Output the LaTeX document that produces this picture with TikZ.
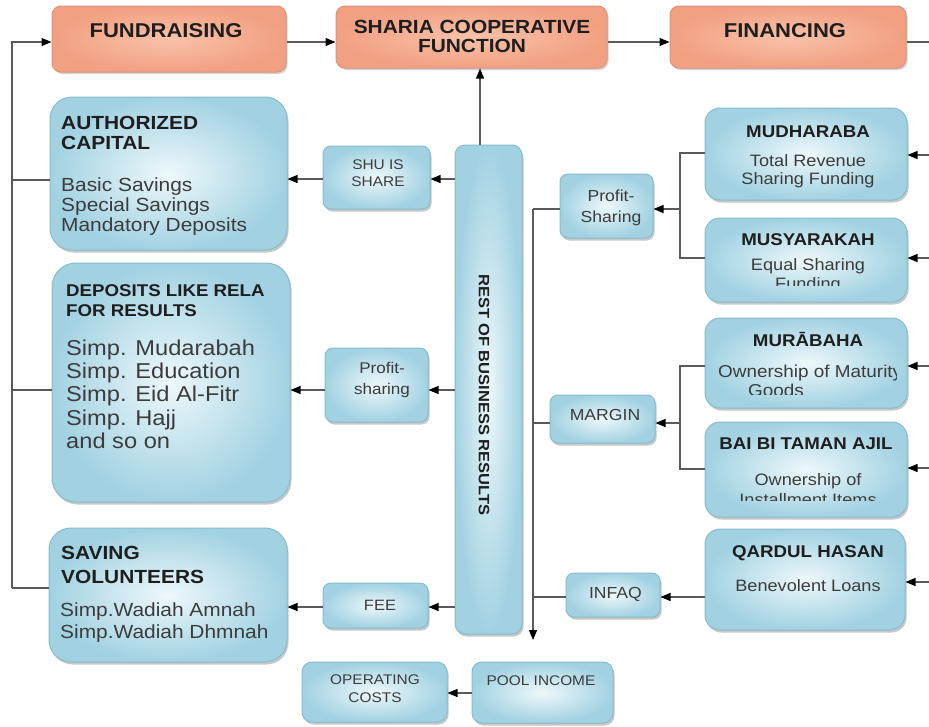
\documentclass[tikz,border=0pt]{standalone}
\usepackage{fontspec}
\setmainfont{Liberation Sans}[FakeStretch=1.1]
\usetikzlibrary{arrows.meta,shadows}
\newcommand\fsz[2]{\fontsize{#1}{#2}\selectfont}
\definecolor{obord}{HTML}{E0937A}
\definecolor{oin}{HTML}{F9C2AA}
\definecolor{oout}{HTML}{F2A082}
\definecolor{bbord}{HTML}{86BDCD}
\definecolor{bin}{HTML}{EEF8FB}
\definecolor{bout}{HTML}{A2D2E2}
\definecolor{ln}{HTML}{5A5A5A}
\definecolor{tx}{HTML}{1E1E1E}
\definecolor{tb}{HTML}{3C3C3C}
\begin{document}
\begin{tikzpicture}[x=1pt,y=-1pt,
  obox/.style={draw=obord, line width=1pt, rounded corners=9pt, inner color=oin, outer color=oout,
    drop shadow={shadow xshift=1.5pt, shadow yshift=-2pt, opacity=0.35, fill=black!50}},
  bbox/.style={draw=bbord, line width=1pt, rounded corners=#1, inner color=bin, outer color=bout,
    drop shadow={shadow xshift=1.5pt, shadow yshift=-2.5pt, opacity=0.4, fill=black!55}},
  bbox/.default=9pt,
  txt/.style={inner sep=0pt, text=tx},
  tbody/.style={inner sep=0pt, text=tb},
  line/.style={draw=ln, line width=1.2pt},
  arr/.style={draw=ln, line width=1.2pt, -{Triangle[length=10pt,width=8pt,color=black]}}
]
\useasboundingbox (0,0) rectangle (929,726);
\fill[white] (0,0) rectangle (929,726);

% ---------- top row ----------
\node[obox, minimum width=234pt, minimum height=66pt] (fund) at (169,39) {};
\node[obox, minimum width=271pt, minimum height=62pt] (share) at (471.5,37) {};
\node[obox, minimum width=236pt, minimum height=62pt] (fin) at (788,37) {};
\node[txt, anchor=base, font=\bfseries\fsz{20}{24}] (fundT) at (166,37) {FUNDRAISING};
\node[txt, anchor=north, align=center, font=\bfseries\fsz{19}{19}] (shareT) at (472,20) {SHARIA COOPERATIVE\\FUNCTION};
\node[txt, anchor=base, font=\bfseries\fsz{20}{24}] (finT) at (785,37) {FINANCING};

% ---------- left column ----------
\node[bbox=22pt, minimum width=237pt, minimum height=153pt] (auth) at (168.5,173.5) {};
\node[txt, anchor=north west, align=left, font=\bfseries\fsz{19}{20}] (authT) at (61,116.5) {AUTHORIZED\\CAPITAL};
\node[tbody, anchor=north west, align=left, font=\fsz{19}{20}] (authB) at (61,178) {Basic Savings\\Special Savings\\Mandatory Deposits};

\node[bbox=24pt, minimum width=238pt, minimum height=239pt] (dep) at (171,382.5) {};
\node[txt, anchor=north west, align=left, font=\bfseries\fsz{17}{20}] (depT) at (66,284) {DEPOSITS LIKE RELA\\FOR RESULTS};
\node[tbody, anchor=north west, align=left, font=\fsz{21.5}{23.3}] (depB) at (66,339.5) {Simp. Mudarabah\\Simp. Education\\Simp. Eid Al-Fitr\\Simp. Hajj\\and so on};

\node[bbox=22pt, minimum width=238pt, minimum height=134pt] (sav) at (168,595) {};
\node[txt, anchor=north west, align=left, font=\bfseries\fsz{19}{24}] (savT) at (61,546.5) {SAVING\\VOLUNTEERS};
\node[tbody, anchor=north west, align=left, font=\fsz{19}{22}] (savB) at (60,603) {Simp.Wadiah Amnah\\Simp.Wadiah Dhmnah};

% ---------- middle small boxes ----------
\node[bbox=8pt, minimum width=107pt, minimum height=63pt] (shu) at (376.5,177.5) {};
\node[tbody, anchor=north, align=center, font=\fsz{14}{17}] (shuT) at (378,160) {SHU IS\\SHARE};
\node[bbox=8pt, minimum width=103pt, minimum height=74pt] (psl) at (376.5,385) {};
\node[tbody, anchor=north, align=center, font=\fsz{15.5}{21}] (pslT) at (382,362.5) {Profit-\\sharing};
\node[bbox=8pt, minimum width=105pt, minimum height=45pt] (fee) at (375.5,605.5) {};
\node[tbody, anchor=base, font=\fsz{15}{18}] (feeT) at (380,610.5) {FEE};
\node[bbox=10pt, minimum width=145pt, minimum height=60pt] (opc) at (374.5,692) {};
\node[tbody, anchor=north, align=center, font=\fsz{14}{18}] (opcT) at (375,675) {OPERATING\\COSTS};
\node[bbox=10pt, minimum width=141pt, minimum height=61pt] (pool) at (542.5,692.5) {};
\node[tbody, anchor=base, font=\fsz{14}{18}] (poolT) at (541,685) {POOL INCOME};

% ---------- rest of business results ----------
\node[bbox=10pt, minimum width=67pt, minimum height=489pt] (rest) at (488.5,389.5) {};
\node[txt, rotate=-90, font=\bfseries\fsz{15}{16}] (restT) at (484,395) {REST OF BUSINESS RESULTS};

% ---------- right middle boxes ----------
\node[bbox=8pt, minimum width=93pt, minimum height=64pt] (psr) at (606.5,206) {};
\node[tbody, anchor=north, align=center, font=\fsz{16}{21}] (psrT) at (611,190) {Profit-\\Sharing};
\node[bbox=8pt, minimum width=105pt, minimum height=48pt] (mar) at (602.5,419) {};
\node[tbody, anchor=base, font=\fsz{16}{18}] (marT) at (605,420.7) {MARGIN};
\node[bbox=8pt, minimum width=94pt, minimum height=44pt] (inf) at (613,595) {};
\node[tbody, anchor=base, font=\fsz{16}{18}] (infT) at (615.5,598.7) {INFAQ};

% ---------- right column ----------
\node[bbox=15pt, minimum width=202pt, minimum height=92pt] (mud) at (806,154) {};
\node[txt, anchor=base, font=\bfseries\fsz{17}{20}] (mudT) at (808,137) {MUDHARABA};
\node[tbody, anchor=north, align=center, font=\fsz{16.5}{18}] (mudB) at (808,154) {Total Revenue\\Sharing Funding};

\node[bbox=15pt, minimum width=202pt, minimum height=84pt] (mus) at (806,260) {};
\node[txt, anchor=base, font=\bfseries\fsz{17}{20}] (musT) at (808,245) {MUSYARAKAH};
\begin{scope}
  \clip (705,250) rectangle (907,285.5);
  \node[tbody, anchor=north, align=center, font=\fsz{16.5}{19}] (musB) at (808,258) {Equal Sharing\\Funding};
\end{scope}

\node[bbox=15pt, minimum width=202pt, minimum height=90pt] (mur) at (806,363) {};
\node[txt, anchor=base, font=\bfseries\fsz{17}{20}] (murT) at (808,346) {MURĀBAHA};
\begin{scope}
  \clip (710,355) rectangle (896,394.5);
  \node[tbody, anchor=north west, font=\fsz{17.2}{19}] (murB) at (718,364.5) {Ownership of Maturity};
  \node[tbody, anchor=north west, font=\fsz{17.2}{19}] (murC) at (748,383.5) {Goods};
\end{scope}

\node[bbox=15pt, minimum width=202pt, minimum height=95pt] (bai) at (806,469.5) {};
\node[txt, anchor=base, font=\bfseries\fsz{17}{20}] (baiT) at (806,449) {BAI BI TAMAN AJIL};
\begin{scope}
  \clip (710,465) rectangle (900,500.5);
  \node[tbody, anchor=north, align=center, font=\fsz{16.5}{20}] (baiB) at (808,473) {Ownership of\\Installment Items};
\end{scope}

\node[bbox=15pt, minimum width=200pt, minimum height=101pt] (qar) at (805,579.5) {};
\node[txt, anchor=base, font=\bfseries\fsz{17}{20}] (qarT) at (808,557) {QARDUL HASAN};
\node[tbody, anchor=base, font=\fsz{16.5}{20}] (qarB) at (808,591) {Benevolent Loans};

% ---------- coordinates ----------
\coordinate (lb) at (12,588);
\coordinate (lt) at (12,42);
\coordinate (la) at (12,180);
\coordinate (ld) at (12,390);
\coordinate (finR) at (929,42);
\coordinate (tt) at (533,209);
\coordinate (tb) at (533,640);
\coordinate (b1) at (680,209);
\coordinate (b2) at (680,423);
\coordinate (in1) at (929,155);
\coordinate (in2) at (929,258);
\coordinate (in3) at (929,366);
\coordinate (in4) at (929,468);
\coordinate (in5) at (929,582);

% ---------- connectors ----------
% left feedback
\draw[line] (sav.west |- lb) -- (lb);
\draw[line] (auth.west |- la) -- (la);
\draw[line] (dep.west |- ld) -- (ld);
\draw[arr] (lb) -- (lt) -- (fund.west |- lt);
% top row
\draw[arr] (fund.east |- 0,42) -- (share.west |- 0,42);
\draw[arr] (share.east |- 0,42) -- (fin.west |- 0,42);
\draw[line] (fin.east |- finR) -- (finR);
% rest up
\draw[arr] (rest.north -| 480,0) -- (share.south -| 480,0);
% rest to left
\draw[arr] (rest.west |- 0,179) -- (shu.east |- 0,179);
\draw[arr] (shu.west |- 0,179) -- (auth.east |- 0,179);
\draw[arr] (rest.west |- 0,390) -- (psl.east |- 0,390);
\draw[arr] (psl.west |- 0,390) -- (dep.east |- 0,390);
\draw[arr] (rest.west |- 0,607) -- (fee.east |- 0,607);
\draw[arr] (fee.west |- 0,607) -- (sav.east |- 0,607);
\draw[arr] (pool.west |- 0,693) -- (opc.east |- 0,693);
% right trunk
\draw[line] (psr.west |- tt) -- (tt);
\draw[arr] (tt) -- (tb);
\draw[line] (mar.west |- 0,423) -- (533,423);
\draw[line] (inf.west |- 0,597) -- (533,597);
% branches
\draw[line] (mud.west |- 0,153) -- (680,153) -- (680,258) -- (mus.west |- 0,258);
\draw[arr] (b1) -- (psr.east |- b1);
\draw[line] (mur.west |- 0,366) -- (680,366) -- (680,469) -- (bai.west |- 0,469);
\draw[arr] (b2) -- (mar.east |- b2);
\draw[arr] (qar.west |- 0,597) -- (inf.east |- 0,597);
% incoming from right
\draw[arr] (in1) -- (mud.east |- in1);
\draw[arr] (in2) -- (mus.east |- in2);
\draw[arr] (in3) -- (mur.east |- in3);
\draw[arr] (in4) -- (bai.east |- in4);
\draw[arr] (in5) -- (qar.east |- in5);
\end{tikzpicture}
\end{document}
